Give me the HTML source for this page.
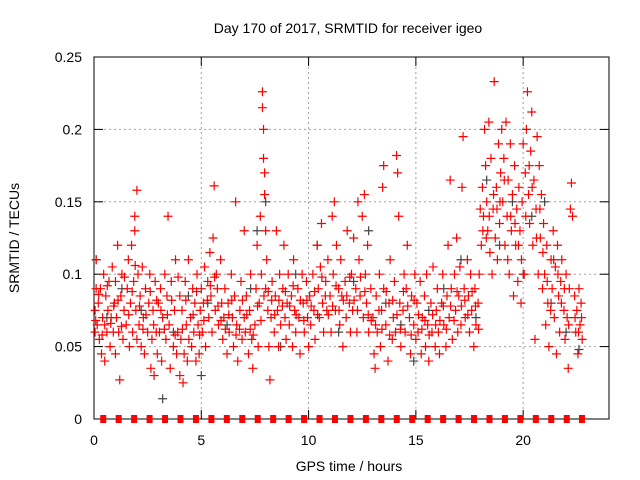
<!DOCTYPE html>
<html><head><meta charset="utf-8"><style>
html,body{margin:0;padding:0;background:#fff;}
svg{display:block;font-family:"Liberation Sans",sans-serif;}
</style></head><body>
<svg id="chart" width="640" height="480" viewBox="0 0 640 480">
<rect width="640" height="480" fill="#fff"/>
<g id="grid"></g>
<g id="axes"></g>
<g id="marks"></g>
<text x="348" y="33" font-size="14" text-anchor="middle" fill="#000">Day 170 of 2017, SRMTID for receiver igeo</text>
<text x="349" y="471" font-size="14" text-anchor="middle" fill="#000">GPS time / hours</text>
<text transform="translate(19,238) rotate(-90)" font-size="14" text-anchor="middle" fill="#000">SRMTID / TECUs</text>
</svg>
<script>
const xTicks = [0, 5, 10, 15, 20];
const yTicks = [0, 0.05, 0.1, 0.15, 0.2, 0.25];
const yTickLabels = ["0", "0.05", "0.1", "0.15", "0.2", "0.25"];
const gapHours = [0.43,1.15,1.87,2.59,3.31,4.03,4.75,5.47,6.19,6.91,7.63,8.35,9.07,9.79,10.51,11.23,11.95,12.67,13.39,14.11,14.83,15.55,16.27,16.99,17.71,18.43,19.15,19.87,20.59,21.31,22.03,22.74];
const redPoints = [
[0.05,0.075],[0.05,0.06],[0.1,0.11],[0.1,0.09],[0.15,0.065],[0.2,0.08],[0.25,0.055],[0.3,0.09],[0.35,0.045],[0.4,0.07],[0.45,0.1],[0.5,0.04],[0.5,0.065],[0.55,0.085],[0.6,0.06],[0.65,0.075],[0.7,0.095],[0.75,0.05],[0.8,0.07],[0.85,0.105],[0.9,0.06],[0.95,0.08],[1.0,0.045],[1.0,0.095],
[1.05,0.07],[1.1,0.12],[1.15,0.06],[1.2,0.027],[1.25,0.085],[1.3,0.1],[1.35,0.055],[1.4,0.075],[1.5,0.065],[1.55,0.09],[1.6,0.11],[1.65,0.05],[1.7,0.08],[1.75,0.12],[1.8,0.06],[1.85,0.095],[1.9,0.14],[1.9,0.13],[1.95,0.075],[2.0,0.158],[2.0,0.055],[2.05,0.1],
[2.1,0.065],[2.15,0.085],[2.2,0.05],[2.25,0.105],[2.3,0.07],[2.35,0.045],[2.4,0.09],[2.5,0.06],[2.55,0.08],[2.6,0.1],[2.65,0.035],[2.7,0.055],[2.75,0.075],[2.8,0.03],[2.85,0.095],[2.9,0.06],[2.95,0.045],[3.0,0.08],
[3.05,0.06],[3.1,0.09],[3.15,0.04],[3.2,0.07],[3.3,0.1],[3.35,0.055],[3.4,0.085],[3.45,0.14],[3.5,0.065],[3.55,0.035],[3.6,0.095],[3.7,0.05],[3.75,0.075],[3.8,0.11],[3.85,0.045],[3.9,0.06],[4.0,0.085],[4.0,0.03],
[4.05,0.055],[4.1,0.075],[4.15,0.025],[4.2,0.045],[4.25,0.095],[4.3,0.065],[4.35,0.04],[4.4,0.11],[4.5,0.07],[4.55,0.05],[4.6,0.09],[4.65,0.06],[4.7,0.08],[4.75,0.04],[4.8,0.1],[4.85,0.065],[4.9,0.045],[4.95,0.075],
[5.0,0.09],[5.05,0.06],[5.1,0.08],[5.15,0.105],[5.2,0.05],[5.3,0.095],[5.35,0.07],[5.4,0.115],[5.45,0.085],[5.5,0.06],[5.55,0.125],[5.6,0.161],[5.65,0.075],[5.7,0.1],[5.75,0.09],[5.8,0.065],[5.9,0.11],[5.95,0.08],
[6.0,0.055],[6.05,0.07],[6.1,0.09],[6.2,0.045],[6.25,0.08],[6.3,0.06],[6.4,0.1],[6.45,0.07],[6.5,0.05],[6.55,0.085],[6.6,0.15],[6.65,0.065],[6.7,0.04],[6.8,0.075],[6.85,0.095],[6.9,0.055],[7.0,0.07],[7.0,0.13],
[7.05,0.06],[7.1,0.085],[7.2,0.045],[7.25,0.075],[7.3,0.1],[7.35,0.055],[7.4,0.035],[7.5,0.065],[7.55,0.09],[7.6,0.12],[7.65,0.05],[7.7,0.08],[7.75,0.14],[7.8,0.1],[7.85,0.226],[7.85,0.215],[7.9,0.2],[7.9,0.18],[7.95,0.17],[7.95,0.155],[8.0,0.13],[8.0,0.09],[8.05,0.11],[8.1,0.075],
[8.15,0.05],[8.2,0.027],[8.25,0.07],[8.3,0.095],[8.4,0.06],[8.45,0.085],[8.5,0.13],[8.55,0.075],[8.6,0.05],[8.65,0.1],[8.7,0.065],[8.8,0.09],[8.85,0.12],[8.9,0.07],[8.95,0.055],
[9.0,0.08],[9.05,0.1],[9.1,0.065],[9.2,0.085],[9.25,0.05],[9.3,0.11],[9.35,0.075],[9.4,0.06],[9.5,0.09],[9.55,0.07],[9.6,0.045],[9.7,0.1],[9.75,0.08],[9.8,0.06],[9.9,0.095],[9.95,0.07],
[10.0,0.05],[10.05,0.085],[10.1,0.065],[10.2,0.1],[10.25,0.075],[10.3,0.055],[10.4,0.12],[10.45,0.09],[10.5,0.07],[10.55,0.105],[10.6,0.135],[10.65,0.08],[10.7,0.06],[10.8,0.095],[10.85,0.075],[10.9,0.11],
[11.0,0.085],[11.05,0.06],[11.1,0.14],[11.15,0.1],[11.2,0.15],[11.25,0.075],[11.3,0.12],[11.4,0.09],[11.45,0.065],[11.5,0.11],[11.55,0.085],[11.6,0.05],[11.7,0.095],[11.75,0.07],[11.8,0.13],[11.9,0.08],[11.95,0.06],
[12.0,0.1],[12.05,0.075],[12.1,0.125],[12.2,0.09],[12.25,0.06],[12.3,0.15],[12.35,0.11],[12.4,0.085],[12.5,0.14],[12.55,0.07],[12.6,0.155],[12.65,0.1],[12.7,0.08],[12.75,0.12],[12.8,0.06],[12.9,0.09],
[13.0,0.07],[13.05,0.045],[13.1,0.035],[13.15,0.085],[13.2,0.06],[13.3,0.1],[13.35,0.05],[13.4,0.075],[13.45,0.16],[13.5,0.175],[13.5,0.09],[13.6,0.065],[13.7,0.04],[13.75,0.08],[13.8,0.11],[13.9,0.055],[13.95,0.07],
[14.0,0.095],[14.05,0.06],[14.1,0.182],[14.15,0.17],[14.2,0.14],[14.25,0.08],[14.3,0.05],[14.4,0.075],[14.45,0.1],[14.5,0.06],[14.55,0.09],[14.6,0.12],[14.7,0.07],[14.75,0.045],[14.8,0.085],[14.9,0.065],[14.95,0.1],
[15.0,0.055],[15.05,0.08],[15.1,0.06],[15.2,0.095],[15.25,0.045],[15.3,0.07],[15.4,0.085],[15.45,0.05],[15.5,0.1],[15.55,0.065],[15.6,0.04],[15.7,0.08],[15.75,0.06],[15.8,0.105],[15.9,0.05],[15.95,0.075],
[16.0,0.09],[16.05,0.06],[16.1,0.045],[16.2,0.08],[16.25,0.1],[16.3,0.065],[16.4,0.05],[16.45,0.085],[16.5,0.12],[16.55,0.07],[16.6,0.165],[16.65,0.09],[16.7,0.055],[16.8,0.1],[16.85,0.075],[16.9,0.125],[16.95,0.06],
[17.0,0.085],[17.05,0.105],[17.1,0.065],[17.15,0.16],[17.2,0.195],[17.25,0.09],[17.3,0.07],[17.4,0.11],[17.45,0.085],[17.5,0.06],[17.55,0.1],[17.6,0.075],[17.7,0.05],[17.75,0.09],[17.8,0.065],[17.9,0.08],[17.95,0.1],
[18.0,0.145],[18.05,0.12],[18.1,0.16],[18.15,0.14],[18.2,0.2],[18.25,0.175],[18.3,0.15],[18.35,0.13],[18.4,0.205],[18.45,0.115],[18.5,0.18],[18.55,0.1],[18.6,0.145],[18.65,0.233],[18.7,0.125],[18.75,0.16],[18.8,0.11],[18.85,0.19],[18.9,0.135],[18.95,0.17],
[19.0,0.2],[19.05,0.15],[19.1,0.18],[19.15,0.12],[19.2,0.205],[19.25,0.14],[19.3,0.165],[19.35,0.1],[19.4,0.19],[19.45,0.13],[19.5,0.155],[19.55,0.085],[19.6,0.175],[19.65,0.12],[19.7,0.145],[19.75,0.095],[19.8,0.16],[19.85,0.13],[19.9,0.08],[19.95,0.15],
[20.0,0.19],[20.05,0.1],[20.1,0.17],[20.15,0.2],[20.2,0.226],[20.25,0.155],[20.3,0.135],[20.35,0.185],[20.4,0.212],[20.45,0.12],[20.5,0.165],[20.55,0.055],[20.6,0.145],[20.65,0.195],[20.7,0.1],[20.75,0.175],[20.8,0.125],[20.85,0.155],[20.9,0.09],[20.95,0.135],
[21.0,0.1],[21.05,0.065],[21.1,0.12],[21.15,0.08],[21.2,0.05],[21.3,0.11],[21.35,0.09],[21.4,0.13],[21.45,0.07],[21.5,0.105],[21.55,0.045],[21.6,0.12],[21.65,0.085],[21.7,0.06],[21.75,0.095],[21.8,0.11],[21.9,0.075],[21.95,0.055],
[22.0,0.1],[22.05,0.07],[22.1,0.035],[22.15,0.09],[22.2,0.145],[22.25,0.163],[22.3,0.14],[22.4,0.085],[22.45,0.06],[22.5,0.075],[22.55,0.045],[22.6,0.09],[22.65,0.065],[22.7,0.08],[22.75,0.055]
];
const redPointsExtra = [
[0.08,0.068],[0.22,0.086],[0.38,0.058],[0.62,0.092],[0.78,0.066],[0.92,0.078],[1.12,0.082],[1.28,0.064],[1.42,0.098],[1.62,0.072],[1.78,0.088],[1.92,0.106],[2.12,0.078],[2.28,0.062],[2.42,0.072],[2.62,0.088],[2.78,0.065],[2.92,0.082],
[3.12,0.075],[3.28,0.062],[3.42,0.072],[3.62,0.082],[3.78,0.058],[3.92,0.098],[4.12,0.062],[4.28,0.082],[4.42,0.055],[4.62,0.072],[4.78,0.088],[4.92,0.058],[5.12,0.068],[5.28,0.082],[5.42,0.092],[5.62,0.098],[5.78,0.078],[5.92,0.068],
[6.12,0.062],[6.28,0.072],[6.42,0.082],[6.62,0.058],[6.78,0.062],[6.92,0.082],[7.12,0.072],[7.28,0.062],[7.42,0.058],[7.62,0.078],[7.78,0.068],[7.92,0.085],[8.12,0.088],[8.28,0.082],[8.42,0.072],[8.62,0.082],[8.78,0.078],[8.92,0.088],
[9.12,0.078],[9.28,0.092],[9.42,0.072],[9.62,0.082],[9.78,0.068],[9.92,0.082],[10.12,0.078],[10.28,0.088],[10.42,0.072],[10.62,0.098],[10.78,0.085],[10.92,0.072],[11.12,0.078],[11.28,0.092],[11.42,0.075],[11.62,0.082],[11.78,0.085],[11.92,0.098],
[12.12,0.082],[12.28,0.075],[12.42,0.098],[12.62,0.088],[12.78,0.072],[12.92,0.068],[13.12,0.065],[13.28,0.075],[13.42,0.062],[13.62,0.088],[13.78,0.058],[13.92,0.082],[14.12,0.072],[14.28,0.062],[14.42,0.088],[14.62,0.078],[14.78,0.058],[14.92,0.082],
[15.12,0.072],[15.28,0.062],[15.42,0.068],[15.62,0.058],[15.78,0.072],[15.92,0.065],[16.12,0.068],[16.28,0.078],[16.42,0.062],[16.62,0.078],[16.78,0.068],[16.92,0.088],[17.12,0.078],[17.28,0.082],[17.42,0.072],[17.62,0.088],[17.78,0.078],[17.92,0.062],
[18.12,0.13],[18.28,0.125],[18.42,0.14],[18.62,0.155],[18.78,0.145],[18.92,0.15],[19.12,0.165],[19.28,0.11],[19.42,0.14],[19.62,0.135],[19.78,0.12],[19.92,0.11],[20.12,0.14],[20.28,0.175],[20.42,0.16],[20.62,0.125],[20.78,0.145],[20.92,0.115],
[21.12,0.095],[21.28,0.075],[21.42,0.11],[21.62,0.1],[21.78,0.08],[21.92,0.09],[22.12,0.065],[22.42,0.07],[22.58,0.06],[22.72,0.07]
];
const blackPoints = [
[0.1,0.11],[0.6,0.07],[1.3,0.09],[2.2,0.075],[3.2,0.014],[3.7,0.06],[4.4,0.085],[5.0,0.03],[5.3,0.08],[6.2,0.065],[7.3,0.09],[7.6,0.13],[8.0,0.15],[8.7,0.05],[9.4,0.1],[10.4,0.12],[11.4,0.06],[12.1,0.095],[12.8,0.13],[13.6,0.08],[14.3,0.065],[14.9,0.04],[15.6,0.075],[16.3,0.09],[17.1,0.11],[17.8,0.07],[18.3,0.165],[18.9,0.12],[19.5,0.15],[20.0,0.1],[20.4,0.14],[21.0,0.15],[21.3,0.08],[22.0,0.06],[22.6,0.048]
];

const NS = "http://www.w3.org/2000/svg";
const L = 94, R = 609, T = 57, B = 419;
const XMAX = 24, YMAX = 0.25;
function sx(h){ return L + (h / XMAX) * (R - L); }
function sy(v){ return B - (v / YMAX) * (B - T); }
function mk(tag, attrs, parent){
  const e = document.createElementNS(NS, tag);
  for (const k in attrs) e.setAttribute(k, attrs[k]);
  parent.appendChild(e);
  return e;
}
const grid = document.getElementById('grid');
const axes = document.getElementById('axes');
const marks = document.getElementById('marks');

yTicks.forEach((v, i) => {
  const y = sy(v);
  if (v > 0 && v < YMAX) {
    const g = mk('line', {x1:L, x2:R, y1:y, y2:y, stroke:'#a0a0a0', 'stroke-width':1, 'stroke-dasharray':'2,3'}, grid);
    
    
  }
  const t1 = mk('line', {x1:L, x2:L+9, y1:y, y2:y, stroke:'#000', 'stroke-width':1}, axes);
  
  
  const t2 = mk('line', {x1:R-9, x2:R, y1:y, y2:y, stroke:'#000', 'stroke-width':1}, axes);
  
  
  const lab = mk('text', {x:L-12, y:y+5, 'font-size':14, 'text-anchor':'end', fill:'#000'}, axes);
  lab.textContent = yTickLabels[i];
  
  
});
xTicks.forEach((h) => {
  const x = sx(h);
  if (h > 0) {
    const g = mk('line', {x1:x, x2:x, y1:T, y2:B, stroke:'#a0a0a0', 'stroke-width':1, 'stroke-dasharray':'2,3'}, grid);
    
    
  }
  const t1 = mk('line', {x1:x, x2:x, y1:B, y2:B-9, stroke:'#000', 'stroke-width':1}, axes);
  
  
  const t2 = mk('line', {x1:x, x2:x, y1:T, y2:T+9, stroke:'#000', 'stroke-width':1}, axes);
  
  
  const lab = mk('text', {x:x, y:B+26, 'font-size':14, 'text-anchor':'middle', fill:'#000'}, axes);
  lab.textContent = String(h);
  
  
});
const frame = mk('rect', {x:L, y:T, width:R-L, height:B-T, fill:'none', stroke:'#000', 'stroke-width':1}, axes);



function plus(h, v, color, name){
  const x = sx(h), y = sy(v);
  const p = mk('path', {d:`M${x-4.5},${y}H${x+4.5}M${x},${y-4.5}V${y+4.5}`, stroke:color, 'stroke-width':1.2, fill:'none'}, marks);
  
  
}
blackPoints.forEach(p => plus(p[0], p[1], '#444', 'black-point'));
redPoints.forEach(p => plus(p[0], p[1], '#ff0000', 'red-point'));
redPointsExtra.forEach(p => plus(p[0], p[1], '#ff0000', 'red-point'));
gapHours.forEach(h => {
  const r = mk('rect', {x:sx(h)-3, y:sy(0)-4, width:6, height:8, fill:'#ff0000'}, marks);
  
  
});
</script>
</body></html>
